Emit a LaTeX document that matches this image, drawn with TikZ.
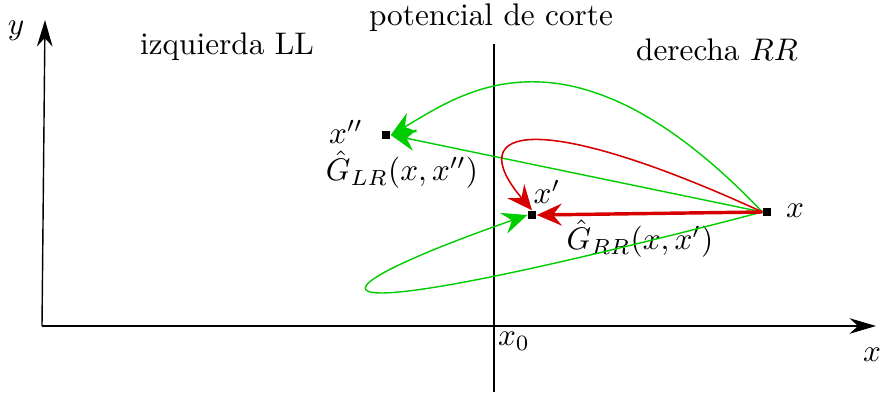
\documentclass[tikz,border=0pt]{standalone}
\usetikzlibrary{arrows.meta}
\definecolor{grn}{RGB}{0,205,0}
\definecolor{rd}{RGB}{215,0,0}
\begin{document}
\begin{tikzpicture}[x=0.32pt,y=-0.32pt,
  pt/.style={fill=black,minimum size=2.6pt,inner sep=0pt},
  axis/.style={line width=0.45pt,-{Stealth[length=8.5pt,width=5pt]}},
  garrow/.style={grn,line width=0.45pt,-{Stealth[length=8pt,width=7pt,inset=2.8pt]}},
  rarrow/.style={rd,-{Stealth[length=8pt,width=7pt,inset=2.8pt]}},
  lbl/.style={inner sep=0pt}]
\useasboundingbox (0,0) rectangle (880,394);
% axes
\coordinate (O) at (42,326);
\coordinate (Ytop) at (45,20);
\coordinate (Xend) at (876,326);
\draw[axis] (O) -- (Ytop);
\draw[axis] (O) -- (Xend);
\coordinate (Vtop) at (494,44);
\coordinate (Vbot) at (494,392);
\draw[line width=0.8pt] (Vtop) -- (Vbot);
% labels
\node[lbl] (ylab) at (16,31) {$y$};
\node[lbl] (xlab) at (872,355) {$x$};
\node[lbl] (x0lab) at (514,341) {$x_0$};
\node[lbl] (pc) at (491,18) {potencial de corte};
\node[lbl] (izq) at (227,47) {izquierda LL};
\node[lbl] (der) at (717,50) {derecha $RR$};
% points
\node[pt] (X) at (767,212) {};
\node[pt] (Xp) at (532,215) {};
\node[pt] (Xpp) at (386,135) {};
\node[lbl] (Xlab) at (795,211) {$x$};
\node[lbl] (Xplab) at (547,192) {$x'$};
\node[lbl] (Xpplab) at (346,132) {$x''$};
\node[lbl] (GLR) at (402,170) {$\hat{G}_{LR}(x,x'')$};
\node[lbl] (GRR) at (640,239) {$\hat{G}_{RR}(x,x')$};
% green connectors
\draw[garrow] (X.west) -- (Xpp.east);
\draw[garrow] (X.west) .. controls (570,10) and (460,95) .. (Xpp.east);
\draw[garrow] (X.west) .. controls (280,338) and (290,298) .. (Xp.west);
% red connectors
\draw[rarrow,line width=0.5pt] (X.west) .. controls (540,110) and (460,125) .. (Xp.north);
\draw[rarrow,line width=1.1pt] (X.west) -- (Xp.east);
\end{tikzpicture}
\end{document}
